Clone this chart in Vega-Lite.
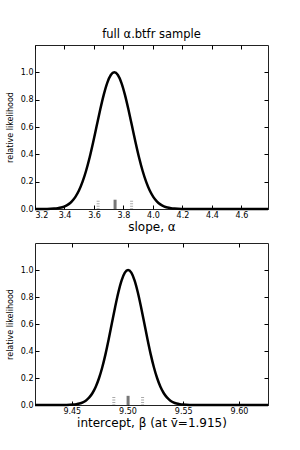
{
  "$schema": "https://vega.github.io/schema/vega-lite/v6.json",
  "padding": {"left": 5, "top": 28, "right": 5, "bottom": 5},
  "spacing": 34,
  "bounds": "flush",
  "config": {
    "font": "DejaVu Sans",
    "view": {"stroke": "#222", "strokeWidth": 1},
    "axis": {"domain": false, "grid": false, "tickColor": "#000", "tickSize": -4, "labelFontSize": 8, "labelColor": "#000", "labelPadding": 6, "titleFontWeight": "normal", "titleColor": "#000"},
    "title": {"fontWeight": "normal", "fontSize": 11.5, "color": "#000"}
  },
  "datasets": {
    "curve_a": [
      {"x": 3.2, "y": 0}, {"x": 3.258, "y": 0.0003}, {"x": 3.282, "y": 0.0007}, {"x": 3.306, "y": 0.0015}, {"x": 3.33, "y": 0.0031}, {"x": 3.354, "y": 0.006}, {"x": 3.378, "y": 0.0111}, {"x": 3.402, "y": 0.0198}, {"x": 3.426, "y": 0.034}, {"x": 3.45, "y": 0.0561}, {"x": 3.474, "y": 0.0889}, {"x": 3.498, "y": 0.135}, {"x": 3.522, "y": 0.198}, {"x": 3.546, "y": 0.278}, {"x": 3.57, "y": 0.375}, {"x": 3.594, "y": 0.487}, {"x": 3.618, "y": 0.607}, {"x": 3.642, "y": 0.726}, {"x": 3.666, "y": 0.835}, {"x": 3.69, "y": 0.923}, {"x": 3.714, "y": 0.98}, {"x": 3.738, "y": 1.0},
      {"x": 3.762, "y": 0.98}, {"x": 3.786, "y": 0.923}, {"x": 3.81, "y": 0.835}, {"x": 3.834, "y": 0.726}, {"x": 3.858, "y": 0.607}, {"x": 3.882, "y": 0.487}, {"x": 3.906, "y": 0.375}, {"x": 3.93, "y": 0.278}, {"x": 3.954, "y": 0.198}, {"x": 3.978, "y": 0.135}, {"x": 4.002, "y": 0.0889}, {"x": 4.026, "y": 0.0561}, {"x": 4.05, "y": 0.034}, {"x": 4.074, "y": 0.0198}, {"x": 4.098, "y": 0.0111}, {"x": 4.122, "y": 0.006}, {"x": 4.146, "y": 0.0031}, {"x": 4.17, "y": 0.0015}, {"x": 4.194, "y": 0.0007}, {"x": 4.218, "y": 0.0003}, {"x": 4.3, "y": 0}, {"x": 4.78, "y": 0}
    ],
    "marks_a": [
      {"x": 3.743, "h": 0.068, "kind": "best"},
      {"x": 3.628, "h": 0.06, "kind": "err"},
      {"x": 3.855, "h": 0.06, "kind": "err"}
    ],
    "curve_b": [
      {"x": 9.417, "y": 0}, {"x": 9.4425, "y": 0.0003}, {"x": 9.4454, "y": 0.0007}, {"x": 9.4483, "y": 0.0015}, {"x": 9.4512, "y": 0.0031}, {"x": 9.4541, "y": 0.006}, {"x": 9.457, "y": 0.0111}, {"x": 9.4599, "y": 0.0198}, {"x": 9.4628, "y": 0.034}, {"x": 9.4657, "y": 0.0561}, {"x": 9.4686, "y": 0.0889}, {"x": 9.4715, "y": 0.135}, {"x": 9.4744, "y": 0.198}, {"x": 9.4773, "y": 0.278}, {"x": 9.4802, "y": 0.375}, {"x": 9.4831, "y": 0.487}, {"x": 9.486, "y": 0.607}, {"x": 9.4889, "y": 0.726}, {"x": 9.4918, "y": 0.835}, {"x": 9.4947, "y": 0.923}, {"x": 9.4976, "y": 0.98}, {"x": 9.5005, "y": 1.0},
      {"x": 9.5034, "y": 0.98}, {"x": 9.5063, "y": 0.923}, {"x": 9.5092, "y": 0.835}, {"x": 9.5121, "y": 0.726}, {"x": 9.515, "y": 0.607}, {"x": 9.5179, "y": 0.487}, {"x": 9.5208, "y": 0.375}, {"x": 9.5237, "y": 0.278}, {"x": 9.5266, "y": 0.198}, {"x": 9.5295, "y": 0.135}, {"x": 9.5324, "y": 0.0889}, {"x": 9.5353, "y": 0.0561}, {"x": 9.5382, "y": 0.034}, {"x": 9.5411, "y": 0.0198}, {"x": 9.544, "y": 0.0111}, {"x": 9.5469, "y": 0.006}, {"x": 9.5498, "y": 0.0031}, {"x": 9.5527, "y": 0.0015}, {"x": 9.5556, "y": 0.0007}, {"x": 9.5585, "y": 0.0003}, {"x": 9.57, "y": 0}, {"x": 9.626, "y": 0}
    ],
    "marks_b": [
      {"x": 9.5005, "h": 0.068, "kind": "best"},
      {"x": 9.4877, "h": 0.06, "kind": "err"},
      {"x": 9.5135, "h": 0.06, "kind": "err"}
    ]
  },
  "vconcat": [
    {
      "width": 233,
      "height": 164,
      "title": {"text": "full α.btfr sample", "offset": 4},
      "resolve": {"axis": {"x": "independent", "y": "independent"}},
      "layer": [
        {
          "data": {"name": "marks_a"},
          "transform": [{"filter": "datum.kind == 'err'"}],
          "mark": {"type": "rule", "color": "#aaa", "strokeWidth": 3, "strokeDash": [1, 1.5]},
          "encoding": {
            "x": {"field": "x", "type": "quantitative", "scale": {"domain": [3.2, 4.78], "nice": false, "zero": false}, "axis": {"orient": "top", "labels": false, "title": null, "values": [3.2, 3.4, 3.6, 3.8, 4.0, 4.2, 4.4, 4.6]}},
            "y": {"field": "h", "type": "quantitative", "scale": {"domain": [0, 1.2], "nice": false}, "axis": {"orient": "right", "labels": false, "title": null, "values": [0, 0.2, 0.4, 0.6, 0.8, 1.0]}},
            "y2": {"datum": 0}
          }
        },
        {
          "data": {"name": "marks_a"},
          "transform": [{"filter": "datum.kind == 'best'"}],
          "mark": {"type": "rule", "color": "#777", "strokeWidth": 3},
          "encoding": {
            "x": {"field": "x", "type": "quantitative", "axis": null},
            "y": {"field": "h", "type": "quantitative", "axis": null},
            "y2": {"datum": 0}
          }
        },
        {
          "data": {"name": "curve_a"},
          "mark": {"type": "line", "color": "#000", "strokeWidth": 2.5, "interpolate": "monotone"},
          "encoding": {
            "x": {"field": "x", "type": "quantitative", "axis": {"orient": "bottom", "title": "slope, α", "titleFontSize": 12, "titlePadding": 2, "format": ".1f", "values": [3.2, 3.4, 3.6, 3.8, 4.0, 4.2, 4.4, 4.6]}},
            "y": {"field": "y", "type": "quantitative", "axis": {"orient": "left", "title": "relative likelihood", "titleFontSize": 8, "titlePadding": 6, "format": ".1f", "values": [0, 0.2, 0.4, 0.6, 0.8, 1.0]}}
          }
        }
      ]
    },
    {
      "width": 233,
      "height": 162,
      "resolve": {"axis": {"x": "independent", "y": "independent"}},
      "layer": [
        {
          "data": {"name": "marks_b"},
          "transform": [{"filter": "datum.kind == 'err'"}],
          "mark": {"type": "rule", "color": "#aaa", "strokeWidth": 3, "strokeDash": [1, 1.5]},
          "encoding": {
            "x": {"field": "x", "type": "quantitative", "scale": {"domain": [9.417, 9.626], "nice": false, "zero": false}, "axis": {"orient": "top", "labels": false, "title": null, "values": [9.45, 9.5, 9.55, 9.6]}},
            "y": {"field": "h", "type": "quantitative", "scale": {"domain": [0, 1.2], "nice": false}, "axis": {"orient": "right", "labels": false, "title": null, "values": [0, 0.2, 0.4, 0.6, 0.8, 1.0]}},
            "y2": {"datum": 0}
          }
        },
        {
          "data": {"name": "marks_b"},
          "transform": [{"filter": "datum.kind == 'best'"}],
          "mark": {"type": "rule", "color": "#777", "strokeWidth": 3},
          "encoding": {
            "x": {"field": "x", "type": "quantitative", "axis": null},
            "y": {"field": "h", "type": "quantitative", "axis": null},
            "y2": {"datum": 0}
          }
        },
        {
          "data": {"name": "curve_b"},
          "mark": {"type": "line", "color": "#000", "strokeWidth": 2.5, "interpolate": "monotone"},
          "encoding": {
            "x": {"field": "x", "type": "quantitative", "axis": {"orient": "bottom", "title": "intercept, β  (at v̄=1.915)", "titleFontSize": 12, "titlePadding": 2, "format": ".2f", "values": [9.45, 9.5, 9.55, 9.6]}},
            "y": {"field": "y", "type": "quantitative", "axis": {"orient": "left", "title": "relative likelihood", "titleFontSize": 8, "titlePadding": 6, "format": ".1f", "values": [0, 0.2, 0.4, 0.6, 0.8, 1.0]}}
          }
        }
      ]
    }
  ]
}
